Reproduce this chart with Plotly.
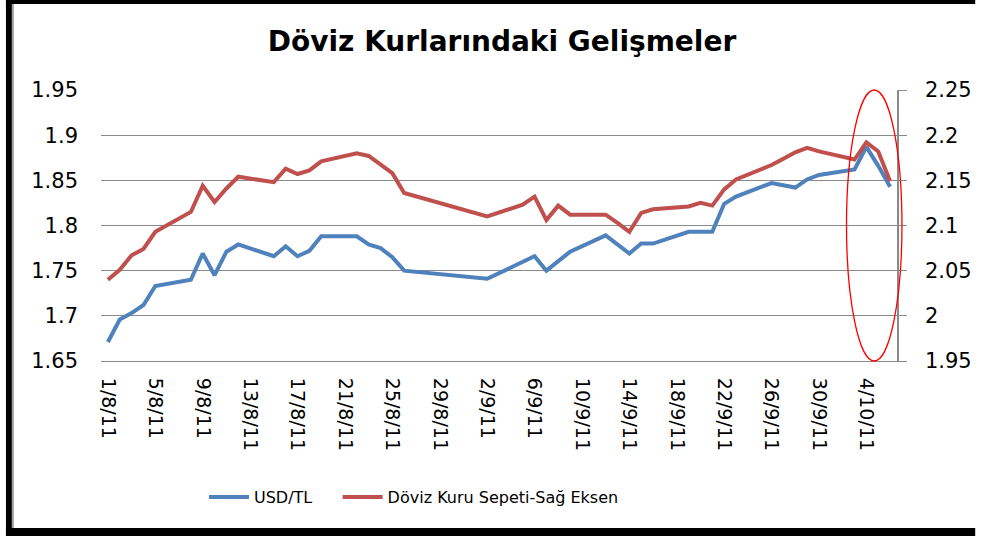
import plotly.graph_objects as go

# ---------------- data ----------------
dates = [
    "2011-08-01", "2011-08-02", "2011-08-03", "2011-08-04", "2011-08-05",
    "2011-08-08", "2011-08-09", "2011-08-10", "2011-08-11", "2011-08-12",
    "2011-08-15", "2011-08-16", "2011-08-17", "2011-08-18", "2011-08-19",
    "2011-08-22", "2011-08-23", "2011-08-24", "2011-08-25", "2011-08-26",
    "2011-09-02",
    "2011-09-05", "2011-09-06", "2011-09-07", "2011-09-08", "2011-09-09",
    "2011-09-12", "2011-09-13", "2011-09-14", "2011-09-15", "2011-09-16",
    "2011-09-19", "2011-09-20", "2011-09-21", "2011-09-22", "2011-09-23",
    "2011-09-26", "2011-09-27", "2011-09-28", "2011-09-29", "2011-09-30",
    "2011-10-03", "2011-10-04", "2011-10-05", "2011-10-06",
]

usd_tl = [
    1.671, 1.696, 1.703, 1.712, 1.733,
    1.740, 1.769, 1.745, 1.771, 1.779,
    1.766, 1.777, 1.766, 1.772, 1.788,
    1.788, 1.779, 1.775, 1.765, 1.750,
    1.741,
    1.760, 1.766, 1.750, 1.761, 1.771,
    1.789, 1.779, 1.769, 1.780, 1.780,
    1.793, 1.793, 1.793, 1.824, 1.832,
    1.847, 1.845, 1.842, 1.851, 1.856,
    1.862, 1.887, 1.866, 1.843,
]

sepet = [
    2.040, 2.051, 2.067, 2.074, 2.093,
    2.115, 2.144, 2.126, 2.141, 2.154,
    2.148, 2.163, 2.157, 2.161, 2.171,
    2.180, 2.177, 2.167, 2.158, 2.136,
    2.110,
    2.123, 2.132, 2.106, 2.122, 2.112,
    2.112, 2.103, 2.093, 2.114, 2.118,
    2.121, 2.125, 2.122, 2.140, 2.151,
    2.167, 2.174, 2.181, 2.186, 2.182,
    2.173, 2.192, 2.182, 2.149,
]

x_tick_dates = [
    "2011-08-01", "2011-08-05", "2011-08-09", "2011-08-13", "2011-08-17",
    "2011-08-21", "2011-08-25", "2011-08-29", "2011-09-02", "2011-09-06",
    "2011-09-10", "2011-09-14", "2011-09-18", "2011-09-22", "2011-09-26",
    "2011-09-30", "2011-10-04",
]
x_tick_labels = [
    "1/8/11", "5/8/11", "9/8/11", "13/8/11", "17/8/11",
    "21/8/11", "25/8/11", "29/8/11", "2/9/11", "6/9/11",
    "10/9/11", "14/9/11", "18/9/11", "22/9/11", "26/9/11",
    "30/9/11", "4/10/11",
]

y_left_ticks = [1.65, 1.70, 1.75, 1.80, 1.85, 1.90, 1.95]
y_left_labels = ["1.65", "1.7", "1.75", "1.8", "1.85", "1.9", "1.95"]
y_right_ticks = [1.95, 2.00, 2.05, 2.10, 2.15, 2.20, 2.25]
y_right_labels = ["1.95", "2", "2.05", "2.1", "2.15", "2.2", "2.25"]

title_text = "Döviz Kurlarındaki Gelişmeler"
name_usd = "USD/TL"
name_sepet = "Döviz Kuru Sepeti-Sağ Eksen"

# ---------------- layout geometry ----------------
W, H = 984, 536
L, R, T, B = 101, 905, 90, 361
PW, PH = R - L, B - T


def px(xp):
    return (xp - L) / PW


def py(yp):
    return (B - yp) / PH


BLUE = "#4F81BD"
RED = "#C0504D"
GRID = "#8A8A8A"
FONT = "DejaVu Sans"

fig = go.Figure()
fig.add_trace(go.Scatter(
    x=dates, y=usd_tl, name=name_usd, mode="lines",
    line=dict(color=BLUE, width=4), yaxis="y", legend="legend"))
fig.add_trace(go.Scatter(
    x=dates, y=sepet, name=name_sepet, mode="lines",
    line=dict(color=RED, width=4), yaxis="y2", legend="legend2"))

shapes = [
    # outer black frame pieces
    dict(type="rect", xref="paper", yref="paper", x0=px(5), x1=px(11), y0=py(0), y1=py(536),
         fillcolor="black", line=dict(width=0), layer="above"),
    dict(type="rect", xref="paper", yref="paper", x0=px(11), x1=px(13), y0=py(4), y1=py(528),
         fillcolor="#A0A0A0", line=dict(width=0), layer="above"),
    dict(type="rect", xref="paper", yref="paper", x0=px(5), x1=px(984), y0=py(0), y1=py(4),
         fillcolor="black", line=dict(width=0), layer="above"),
    dict(type="rect", xref="paper", yref="paper", x0=px(5), x1=px(984), y0=py(528), y1=py(536),
         fillcolor="black", line=dict(width=0), layer="above"),
    # red ellipse highlight
    dict(type="circle", xref="paper", yref="paper", x0=px(854), x1=px(910), y0=py(361), y1=py(90),
         line=dict(color="#FF0000", width=1.3), layer="above"),
]

legend_common = dict(orientation="h", xanchor="left", y=py(497), yanchor="middle",
                     itemwidth=40,
                     font=dict(family=FONT, size=16, color="black"), bgcolor="rgba(0,0,0,0)")

fig.update_layout(
    width=W, height=H,
    margin=dict(l=L, r=W - R, t=T, b=H - B, pad=0),
    paper_bgcolor="white", plot_bgcolor="white",
    font=dict(family=FONT, size=17, color="black"),
    title=dict(text="<b>" + title_text + "</b>", x=502 / W, xanchor="center",
               y=1 - 41 / H, yanchor="middle", xref="container", yref="container",
               font=dict(family=FONT, size=28, color="black")),
    showlegend=True,
    legend=dict(x=px(205), **legend_common),
    legend2=dict(x=px(340), **legend_common),
    xaxis=dict(type="date", range=["2011-07-31 10:00", "2011-10-06 14:00"],
               tickmode="array", tickvals=x_tick_dates, ticktext=x_tick_labels,
               tickangle=90, showgrid=False, zeroline=False,
               showline=True, linecolor=GRID, linewidth=1,
               ticks="", ticklabelstandoff=12,
               tickfont=dict(family=FONT, size=19, color="black")),
    yaxis=dict(range=[1.65, 1.95], tickmode="array", tickvals=y_left_ticks, ticktext=y_left_labels,
               showgrid=True, gridcolor=GRID, gridwidth=1, zeroline=False,
               showline=False, ticks="", ticklabelstandoff=22,
               tickfont=dict(family=FONT, size=21, color="black")),
    yaxis2=dict(range=[1.95, 2.25], overlaying="y", side="right",
                tickmode="array", tickvals=y_right_ticks, ticktext=y_right_labels,
                showgrid=False, zeroline=False, showline=True, linecolor=GRID, linewidth=1.5,
                ticks="outside", ticklen=8, tickcolor=GRID, ticklabelstandoff=14,
                tickfont=dict(family=FONT, size=21, color="black")),
    shapes=shapes,
)

fig.write_html("out.html", config={"displayModeBar": False},
               post_script="document.body.style.margin='0';")
